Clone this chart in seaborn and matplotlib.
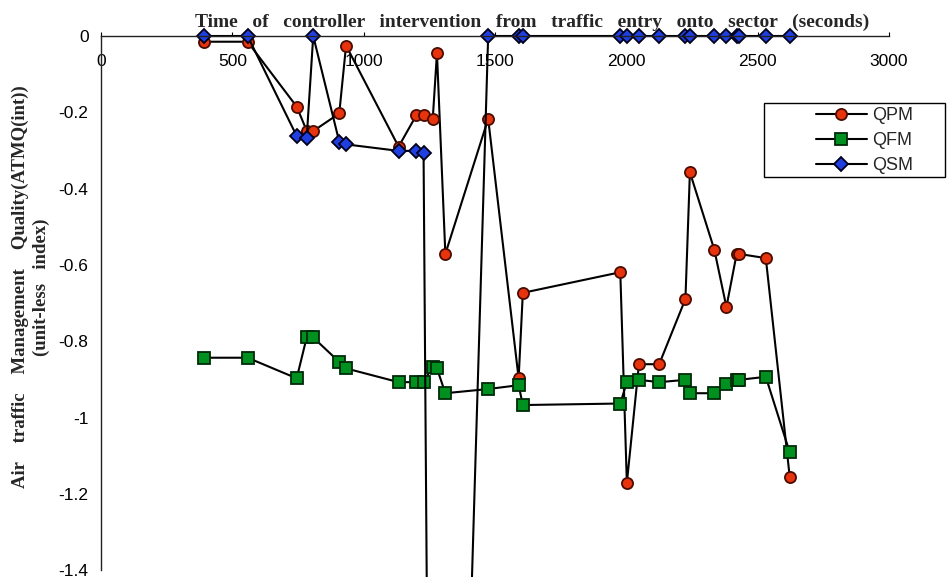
import matplotlib
matplotlib.use("Agg")
import numpy as np
import pandas as pd
import matplotlib.pyplot as plt
import seaborn as sns
from matplotlib.patches import Rectangle

# ========================= Values =========================
time_s = [393, 558, 745, 783, 808, 907, 933, 1133, 1201, 1228, 1263, 1279, 1311, 1474,
          1590, 1606, 1977, 2002, 2048, 2125, 2225, 2242, 2335, 2381, 2420, 2429, 2531, 2622]

qpm = [-0.015, -0.015, -0.185, -0.248, -0.249, -0.203, -0.025, -0.290, -0.207, -0.207,
       -0.217, -0.045, -0.571, -0.217, -0.897, -0.673, -0.619, -1.171, -0.860, -0.860,
       -0.689, -0.357, -0.560, -0.710, -0.571, -0.571, -0.582, -1.155]

qfm = [-0.843, -0.843, -0.897, -0.790, -0.790, -0.854, -0.871, -0.907, -0.907, -0.907,
       -0.866, -0.871, -0.936, -0.925, -0.915, -0.967, -0.963, -0.907, -0.901, -0.907,
       -0.901, -0.936, -0.936, -0.913, -0.901, -0.901, -0.893, -1.091]

# the three points after 1228 s fall far below the visible range
qsm = [0.0, 0.0, -0.262, -0.268, 0.0, -0.277, -0.284, -0.301, -0.301, -0.306,
       -3.55, -3.65, -3.75, 0.0, 0.0, 0.0, 0.0, 0.0, 0.0, 0.0,
       0.0, 0.0, 0.0, 0.0, 0.0, 0.0, 0.0, 0.0]

series_names = ["QPM", "QFM", "QSM"]
x_ticks = [0, 500, 1000, 1500, 2000, 2500, 3000]
y_ticks = [0, -0.2, -0.4, -0.6, -0.8, -1.0, -1.2, -1.4]
y_tick_labels = ["0", "-0.2", "-0.4", "-0.6", "-0.8", "-1", "-1.2", "-1.4"]

title_words = ["Time", "of", "controller", "intervention", "from", "traffic",
               "entry", "onto", "sector", "(seconds)"]
ylabel_1 = ["Air", "traffic", "Management", "Quality(ATMQ(int))"]
ylabel_2 = ["(unit-less", "index)"]

# ========================= Styling =========================
sns.set_style("white")
plt.rcParams["axes.unicode_minus"] = False
plt.rcParams["font.family"] = ["Liberation Sans", "DejaVu Sans"]

W, H = 952, 577
fig = plt.figure(figsize=(W / 100, H / 100), dpi=100)
ax = fig.add_axes([101 / W, 1 - 570.3 / H, 788 / W, 534.3 / H])

styles = {
    "QPM": dict(marker="o", markersize=8, markerfacecolor="#e8340c", markeredgecolor="#4a0c00"),
    "QFM": dict(marker="s", markersize=8, markerfacecolor="#00901f", markeredgecolor="#002a08"),
    "QSM": dict(marker="D", markersize=7, markerfacecolor="#1f3fe0", markeredgecolor="#00001a"),
}

df = pd.DataFrame({"time": time_s, "QPM": qpm, "QFM": qfm, "QSM": qsm})

for name in series_names:
    sns.lineplot(data=df, x="time", y=name, ax=ax, color="black", linewidth=1.5,
                 markeredgewidth=1.3, clip_on=False, label=name, **styles[name])

# Axes cosmetics
ax.set_xlim(0, 3000)
ax.set_ylim(-1.4, 0)
ax.set_xticks(x_ticks)
ax.set_yticks(y_ticks)
ax.set_yticklabels(y_tick_labels)
ax.xaxis.tick_top()
ax.tick_params(axis="x", direction="out", length=3, width=0.8, pad=-27,
               labelsize=12.5, colors="black")
ax.tick_params(axis="y", direction="inout", length=4, width=0.8, pad=7,
               labelsize=12.5, colors="black")
for side in ["right", "bottom"]:
    ax.spines[side].set_visible(False)
for side in ["left", "top"]:
    ax.spines[side].set_color("#222222")
    ax.spines[side].set_linewidth(1.0)
ax.spines["left"].set_bounds(-1.4, 0)
ax.grid(False)

# Title sits above the top axis line, words spread out
ax.xaxis.set_label_position("top")
ax.set_xlabel("   ".join(title_words), fontfamily="Liberation Serif", fontweight="bold",
              fontsize=14, ha="left", va="baseline")
ax.xaxis.set_label_coords((195 - 101) / 788, 1 + 9 / 534.3)

ax.set_ylabel("    ".join(ylabel_1) + "\n" + "   ".join(ylabel_2),
              fontfamily="Liberation Serif", fontweight="bold", fontsize=13.5,
              linespacing=1.3, multialignment="center")
ax.yaxis.label.set_va("center")
ax.yaxis.set_label_coords((31 - 101) / 788, (570.3 - 287) / 534.3)

# Legend
leg = ax.legend(loc="upper left", bbox_to_anchor=(816 / W, 1 - 107 / H),
                bbox_transform=fig.transFigure, frameon=False, borderpad=0,
                borderaxespad=0, handlelength=2.8, handletextpad=0.3,
                labelspacing=0.45, fontsize=13)
fig.add_artist(Rectangle((764 / W, 1 - 177 / H), (945 - 764) / W, 74 / H,
                         transform=fig.transFigure, fill=False, edgecolor="black",
                         linewidth=1.0))

plt.savefig("out.png", dpi=100)
plt.close()
